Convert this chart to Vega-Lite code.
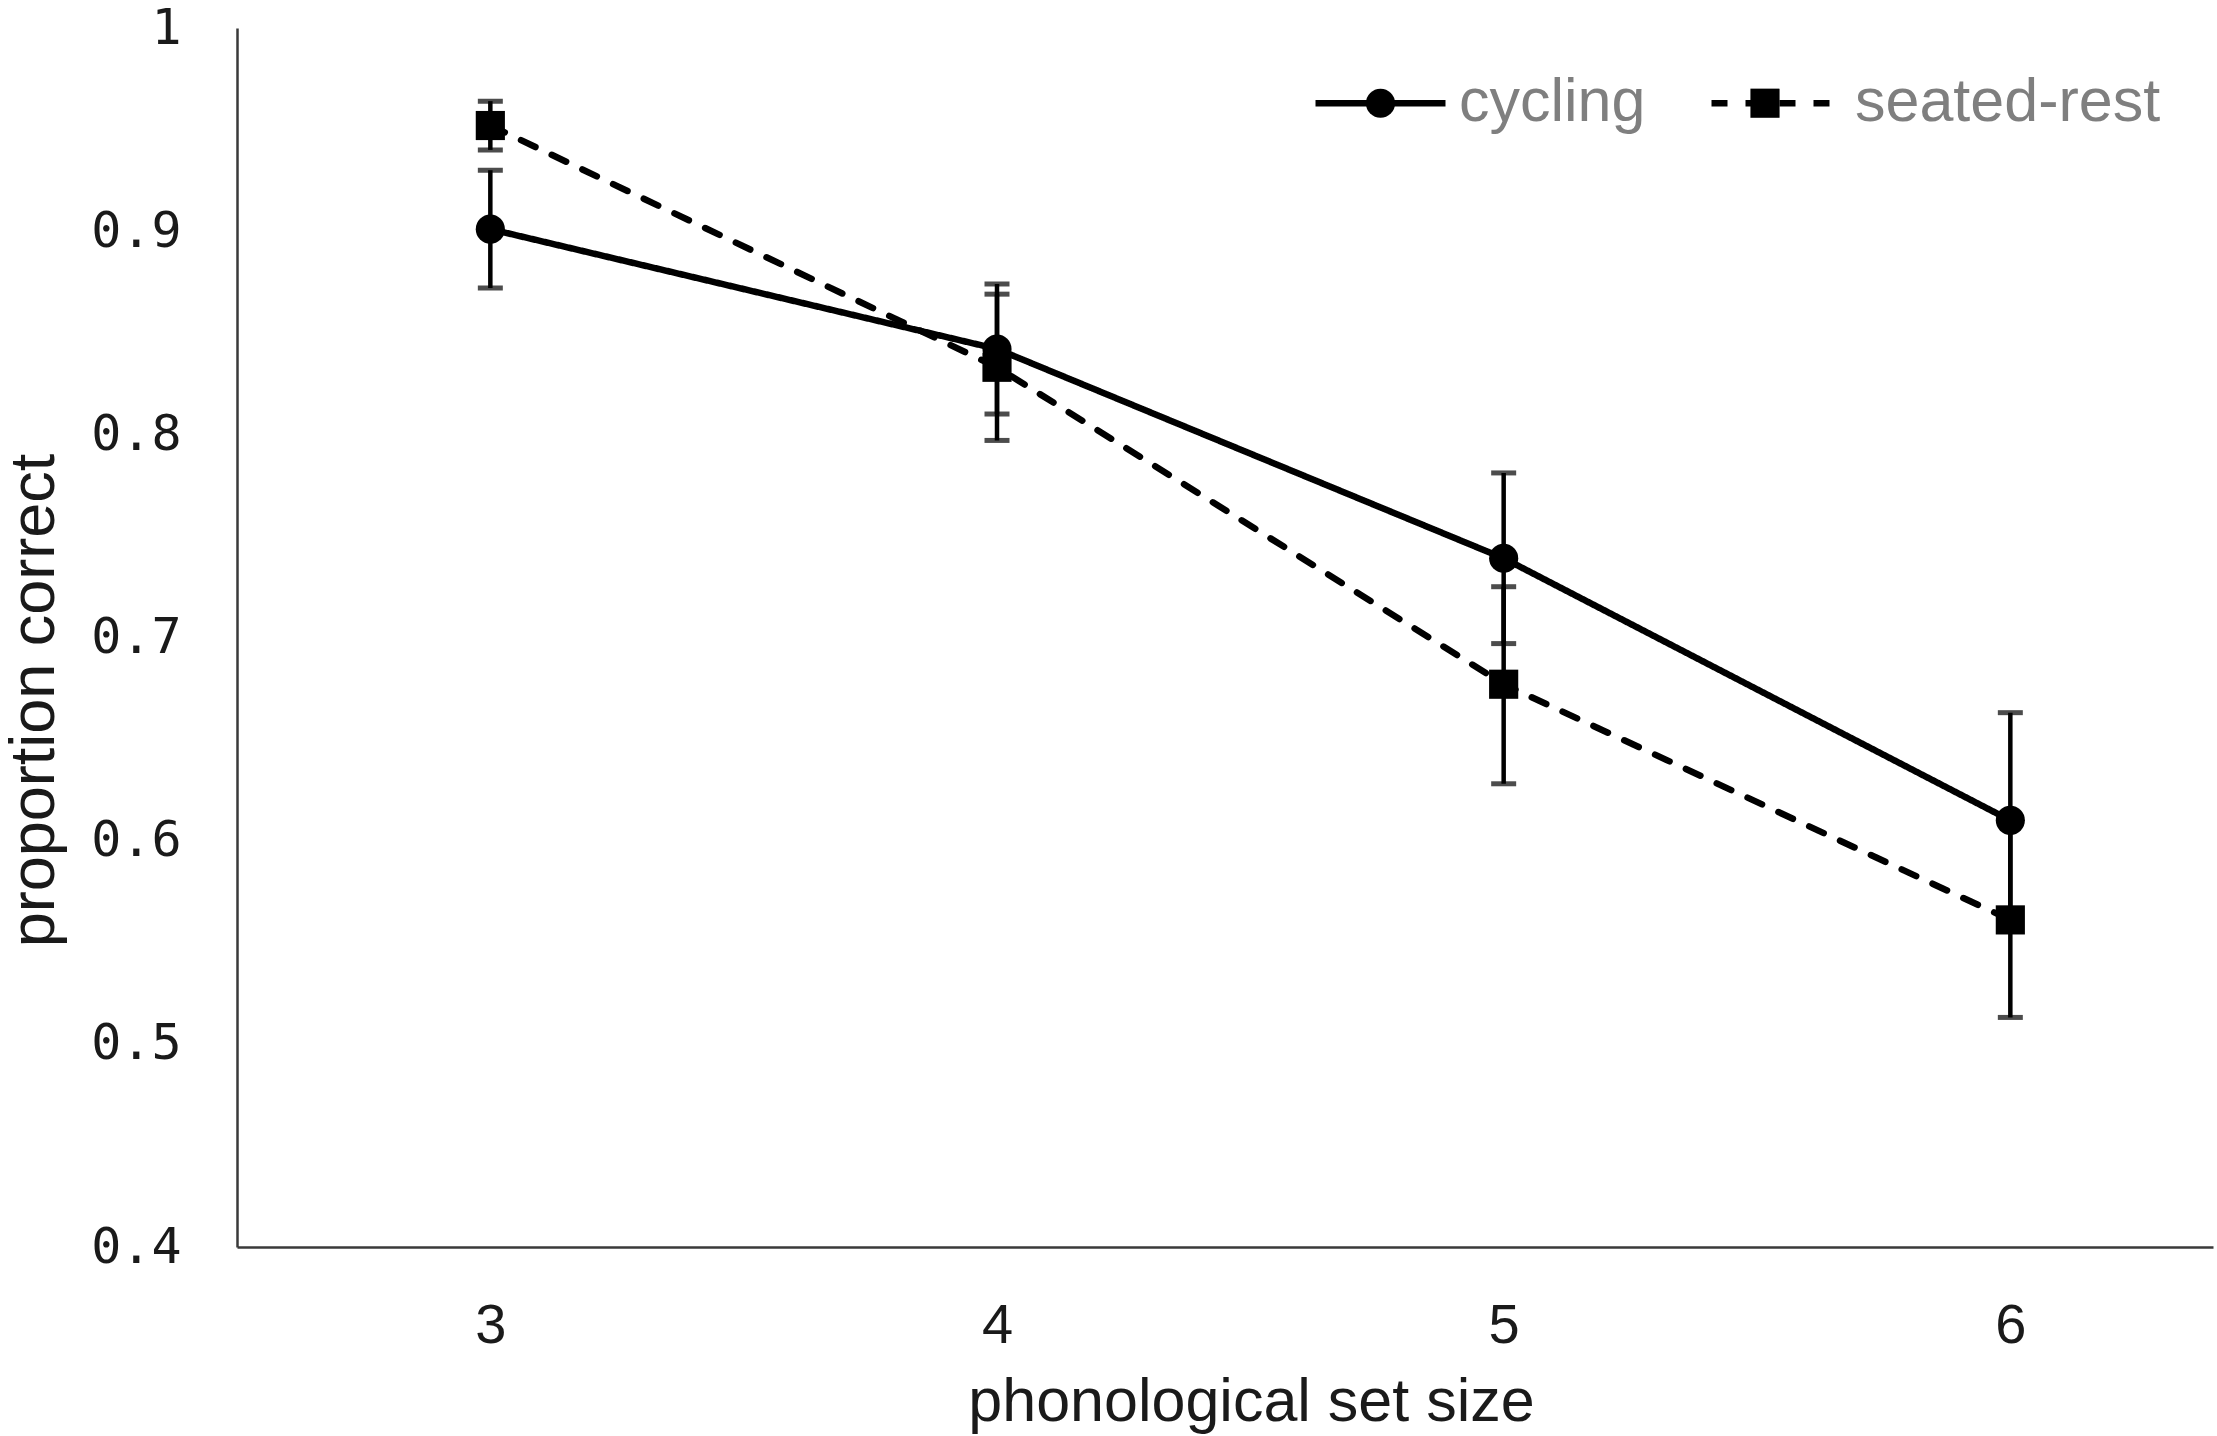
{
  "$schema": "https://vega.github.io/schema/vega-lite/v6.json",
  "width": 1976,
  "height": 1219,
  "autosize": {"type": "none"},
  "padding": {"left": 237, "top": 28, "right": 4, "bottom": 189},
  "background": "white",
  "config": {
    "view": {"stroke": null},
    "axis": {"grid": false, "ticks": false, "domainColor": "#3a3a3a", "domainWidth": 2.5}
  },
  "data": {
    "values": [
      {"size": 3, "condition": "cycling", "mean": 0.901, "lo": 0.872, "hi": 0.930},
      {"size": 4, "condition": "cycling", "mean": 0.842, "lo": 0.810, "hi": 0.874},
      {"size": 5, "condition": "cycling", "mean": 0.739, "lo": 0.697, "hi": 0.781},
      {"size": 6, "condition": "cycling", "mean": 0.610, "lo": 0.557, "hi": 0.663},
      {"size": 3, "condition": "seated-rest", "mean": 0.952, "lo": 0.940, "hi": 0.964},
      {"size": 4, "condition": "seated-rest", "mean": 0.833, "lo": 0.797, "hi": 0.869},
      {"size": 5, "condition": "seated-rest", "mean": 0.677, "lo": 0.628, "hi": 0.725},
      {"size": 6, "condition": "seated-rest", "mean": 0.561, "lo": 0.513, "hi": 0.609}
    ]
  },
  "encoding": {
    "x": {
      "field": "size", "type": "quantitative",
      "scale": {"domain": [2.5, 6.4], "nice": false, "zero": false},
      "axis": {
        "title": "phonological set size", "values": [3, 4, 5, 6], "format": "d",
        "labelFont": "Liberation Sans", "labelFontSize": 56, "labelColor": "#1a1a1a", "labelPadding": 51,
        "titleFont": "Liberation Sans", "titleFontSize": 61, "titleFontWeight": "normal", "titleColor": "#1a1a1a", "titlePadding": 19,
        "titleX": 1014
      }
    },
    "y": {
      "field": "mean", "type": "quantitative",
      "scale": {"domain": [0.4, 1], "nice": false, "zero": false},
      "axis": {
        "title": "proportion correct", "values": [0.4, 0.5, 0.6, 0.7, 0.8, 0.9, 1], "format": ".1~f",
        "labelFont": "DejaVu Sans Mono", "labelFontSize": 50, "labelColor": "#1a1a1a", "labelPadding": 56,
        "titleFont": "Liberation Sans", "titleFontSize": 63, "titleFontWeight": "normal", "titleColor": "#1a1a1a", "titlePadding": 24,
        "titleY": 672
      }
    }
  },
  "layer": [
    {
      "mark": {"type": "line", "color": "black", "strokeWidth": 6.5, "strokeCap": "round"},
      "encoding": {
        "detail": {"field": "condition", "type": "nominal"},
        "strokeDash": {
          "field": "condition", "type": "nominal",
          "scale": {"domain": ["cycling", "seated-rest"], "range": [[1, 0], [16, 18]]},
          "legend": {
            "title": null, "orient": "none", "direction": "horizontal",
            "legendX": 1075, "legendY": 6.5, "padding": 0,
            "symbolType": "stroke", "symbolSize": 16900, "symbolStrokeWidth": 6.5,
            "symbolStrokeColor": "black", "symbolOpacity": 1,
            "columnPadding": 52,
            "labelFont": "Liberation Sans", "labelFontSize": 61, "labelColor": "#7f7f7f", "labelOffset": 10,
            "labelLimit": 500
          }
        }
      }
    },
    {
      "mark": {"type": "errorbar", "ticks": {"size": 25, "thickness": 5, "color": "black"}, "rule": {"strokeWidth": 4.5, "color": "black"}},
      "encoding": {
        "y": {"field": "lo", "type": "quantitative"},
        "y2": {"field": "hi"},
        "detail": {"field": "condition", "type": "nominal"}
      }
    },
    {
      "mark": {"type": "point", "filled": true, "color": "black", "opacity": 1, "size": 850},
      "encoding": {
        "shape": {
          "field": "condition", "type": "nominal",
          "scale": {"range": ["circle", "square"]},
          "legend": {
            "title": null, "orient": "none", "direction": "horizontal",
            "legendX": 1128.5, "legendY": 60, "padding": 0,
            "symbolSize": 850, "symbolStrokeWidth": 0, "symbolFillColor": "black", "symbolOpacity": 1,
            "columnPadding": 354.5,
            "labelExpr": "''", "labelFontSize": 1, "labelOffset": 0
          }
        }
      }
    }
  ]
}
